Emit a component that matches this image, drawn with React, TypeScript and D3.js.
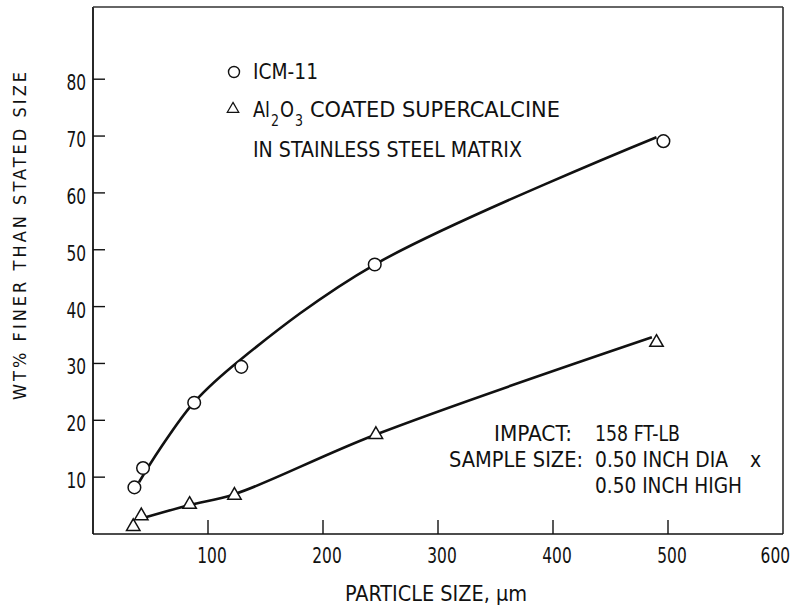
import React from "react";
import * as d3 from "d3";

// ---- data ----
const icmX = [36, 43.5, 88, 129, 245, 496];
const icmY = [8.2, 11.6, 23.1, 29.4, 47.4, 69.1];
const aluX = [35, 42, 84, 123, 246, 490];
const aluY = [1.3, 3.2, 5.2, 6.8, 17.5, 33.7];
// hand-drawn fitted curves
const icmFitX = [40, 58, 88, 129, 245, 490];
const icmFitY = [9.1, 14.9, 23.2, 30.8, 47.4, 69.8];
const aluFitX = [45, 84, 123, 246, 486];
const aluFitY = [2.9, 5.1, 7.0, 17.5, 34.6];
const xTicks = [100, 200, 300, 400, 500, 600];
const yTicks = [10, 20, 30, 40, 50, 60, 70, 80];

const W = 798;
const H = 611;
const FONT = "'Liberation Sans Narrow', 'DejaVu Sans Condensed', 'Arial Narrow', sans-serif";
const INK = "#111";
const DIGIT_W = 9.8;

export default function App() {
  const x = d3.scaleLinear().domain([0, 600]).range([93, 783]);
  const y = d3.scaleLinear().domain([0, 92.7]).range([534, 7]);
  const smooth = d3
    .line<[number, number]>()
    .x((d) => x(d[0]))
    .y((d) => y(d[1]))
    .curve(d3.curveCatmullRom.alpha(0.5));
  const icmFit: [number, number][] = icmFitX.map((v, i) => [v, icmFitY[i]]);
  const aluFit: [number, number][] = aluFitX.map((v, i) => [v, aluFitY[i]]);
  const tri = d3.symbol().type(d3.symbolTriangle).size(78)() as string;

  const [x0, x1] = x.range();
  const [y0, y1] = y.range();

  const squeeze = (len: number) => ({ textLength: len, lengthAdjust: "spacingAndGlyphs" as const });

  return (
    <svg
      width={W}
      height={H}
      style={{ position: "absolute", left: 0, top: 0, background: "#fff" }}
      fontFamily={FONT}
      fill={INK}
    >
      <rect x={0} y={0} width={W} height={H} fill="#fff" />
      {/* frame */}
      <line x1={x0} x2={x0} y1={y1} y2={y0} stroke={INK} strokeWidth={1.8} />
      <line x1={x0} x2={x1} y1={y0} y2={y0} stroke={INK} strokeWidth={1.6} />
      <line x1={x1} x2={x1} y1={y1} y2={y0} stroke={INK} strokeWidth={1.4} />
      <line x1={x0} x2={x1} y1={y1} y2={y1} stroke="#333" strokeWidth={1.3} />

      {/* y ticks */}
      {yTicks.map((t) => {
        const w = String(t).length * DIGIT_W;
        return (
          <g key={"y" + t}>
            <line x1={x0} x2={x0 + 12} y1={y(t)} y2={y(t)} stroke={INK} strokeWidth={1.4} />
            <text x={86 - w} y={y(t) + 11} fontSize={21} {...squeeze(w)}>
              {t}
            </text>
          </g>
        );
      })}
      {/* x ticks */}
      {xTicks.map((t) => {
        const w = String(t).length * DIGIT_W;
        const cx = Math.min(x(t) + 4, W - 8 - w / 2);
        return (
          <g key={"x" + t}>
            {t < 600 && (
              <line x1={x(t)} x2={x(t)} y1={y0} y2={y0 - 14} stroke={INK} strokeWidth={1.4} />
            )}
            <text x={cx - w / 2} y={563} fontSize={22} {...squeeze(w)}>
              {t}
            </text>
          </g>
        );
      })}

      {/* axis titles */}
      <text transform="translate(26,400) rotate(-90)" fontSize={18} textLength={328} lengthAdjust="spacing">
        WT% FINER THAN STATED SIZE
      </text>
      <text x={345} y={601} fontSize={21} {...squeeze(182)}>
        PARTICLE SIZE, µm
      </text>

      {/* curves */}
      <path d={smooth(icmFit) as string} fill="none" stroke={INK} strokeWidth={2.6} />
      <path d={smooth(aluFit) as string} fill="none" stroke={INK} strokeWidth={2.6} />

      {/* markers */}
      {icmX.map((v, i) => (
        <circle key={"c" + i} cx={x(v)} cy={y(icmY[i])} r={6.3} fill="#fff" stroke={INK} strokeWidth={1.5} />
      ))}
      {aluX.map((v, i) => (
        <path
          key={"t" + i}
          d={tri}
          transform={`translate(${x(v)},${y(aluY[i])})`}
          fill="#fff"
          stroke={INK}
          strokeWidth={1.5}
        />
      ))}

      {/* legend */}
      <circle cx={234} cy={72} r={5.5} fill="#fff" stroke={INK} strokeWidth={1.4} />
      <text x={253} y={79} fontSize={21} {...squeeze(65)}>
        ICM-11
      </text>
      <path d={tri} transform="translate(233,109) scale(0.85)" fill="#fff" stroke={INK} strokeWidth={1.5} />
      <text x={253} y={117} fontSize={21} {...squeeze(17)}>Al</text>
      <text x={271} y={126} fontSize={16} {...squeeze(8)}>2</text>
      <text x={280} y={117} fontSize={21} {...squeeze(14)}>O</text>
      <text x={295} y={126} fontSize={16} {...squeeze(8)}>3</text>
      <text x={310} y={117} fontSize={21} {...squeeze(250)}>COATED SUPERCALCINE</text>
      <text x={253} y={157} fontSize={21} {...squeeze(269)}>
        IN STAINLESS STEEL MATRIX
      </text>

      {/* annotation */}
      <text x={494} y={441} fontSize={21} {...squeeze(78)}>
        IMPACT:
      </text>
      <text x={595} y={441} fontSize={21} {...squeeze(85)}>
        158 FT-LB
      </text>
      <text x={449} y={467} fontSize={21} {...squeeze(134)}>
        SAMPLE SIZE:
      </text>
      <text x={595} y={467} fontSize={21} {...squeeze(133)}>
        0.50 INCH DIA
      </text>
      <text x={750} y={467} fontSize={21}>
        x
      </text>
      <text x={595} y={493} fontSize={21} {...squeeze(147)}>
        0.50 INCH HIGH
      </text>
    </svg>
  );
}
